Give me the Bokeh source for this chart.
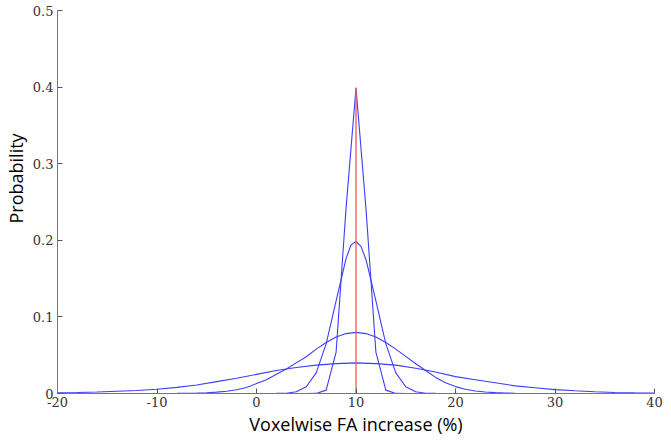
from bokeh.plotting import figure
from bokeh.models import Range1d, FixedTicker, Title
from bokeh.embed import file_html
from bokeh.resources import INLINE

# ---- data ----
x_ticks = [-20, -10, 0, 10, 20, 30, 40]
x_tick_labels = ["-20", "-10", "0", "10", "20", "30", "40"]
y_ticks = [0, 0.1, 0.2, 0.3, 0.4, 0.5]
y_tick_labels = ["0", "0.1", "0.2", "0.3", "0.4", "0.5"]

x_title = "Voxelwise FA increase (%)"
y_title = "Probability"

true_increase = 10
true_peak = 0.399

# narrowest distribution
x_a = [-20, 5, 6, 7, 8, 9, 10, 11, 12, 13, 14, 15, 40]
p_a = [0.0, 0.0, 0.0001, 0.0044, 0.054, 0.242, 0.399, 0.242, 0.054, 0.0044, 0.0001, 0.0, 0.0]

# second distribution
x_b = [-20, 2, 3, 4, 5, 6, 7, 8, 9, 9.5, 10, 10.5, 11, 12, 13, 14, 15, 16, 17, 18, 40]
p_b = [0.0, 0.0001, 0.0004, 0.0022, 0.0088, 0.027, 0.0648, 0.121, 0.176, 0.194, 0.1985,
       0.192, 0.175, 0.121, 0.0648, 0.027, 0.0088, 0.0022, 0.0004, 0.0001, 0.0]

# third distribution
x_c = [-20, -8, -6, -5, -4, -3, -2, -1, 0, 1, 2, 3, 4, 5, 6, 7, 8, 9, 10, 11, 12, 13, 14,
       15, 16, 17, 18, 19, 20, 21, 22, 23, 24, 25, 26, 40]
p_c = [0.0, 0.0002, 0.0006, 0.001, 0.0018, 0.003, 0.0048, 0.0078, 0.013, 0.018, 0.025,
       0.032, 0.040, 0.048, 0.0579, 0.0666, 0.0737, 0.0782, 0.0798, 0.0782, 0.0737, 0.0666,
       0.0579, 0.0484, 0.0388, 0.030, 0.021, 0.014, 0.009, 0.0055, 0.0033, 0.002, 0.0011,
       0.0006, 0.0003, 0.0]

# widest distribution
x_d = [-20, -18, -16, -14, -12, -10, -8, -6, -4, -2, 0, 2, 4, 6, 8, 10, 12, 14, 16, 18,
       20, 22, 24, 26, 28, 30, 32, 34, 36, 38, 40]
p_d = [0.001, 0.0013, 0.002, 0.003, 0.004, 0.0055, 0.008, 0.011, 0.0155, 0.020, 0.025,
       0.030, 0.034, 0.037, 0.039, 0.040, 0.039, 0.037, 0.033, 0.028, 0.022, 0.018, 0.014,
       0.010, 0.0075, 0.005, 0.0035, 0.0022, 0.0014, 0.0008, 0.0005]

curves = [(x_a, p_a), (x_b, p_b), (x_c, p_c), (x_d, p_d)]

# ---- figure ----
p = figure(width=663, height=436, output_backend="svg", toolbar_location=None,
           x_range=Range1d(-20, 40), y_range=Range1d(0, 0.5),
           min_border_left=54, min_border_right=9, min_border_top=10, min_border_bottom=42)
p.outline_line_color = None
p.grid.visible = False
p.background_fill_color = "white"

blue = "#3d3dff"
for xs, ys in curves:
    p.line(xs, ys, line_color=blue, line_width=1.1)

p.line([true_increase, true_increase], [0, true_peak], line_color="#e85f5f",
       line_width=1.6, line_alpha=0.85)

for ax, ticks, labels in ((p.xaxis[0], x_ticks, x_tick_labels), (p.yaxis[0], y_ticks, y_tick_labels)):
    ax.ticker = FixedTicker(ticks=ticks)
    ax.major_label_overrides = {t: l for t, l in zip(ticks, labels)}
    ax.axis_line_color = "#777777"
    ax.major_tick_line_color = "#555555"
    ax.major_tick_in = 5
    ax.major_tick_out = 0
    ax.minor_tick_line_color = None
    ax.major_label_text_font = "DejaVu Serif"
    ax.major_label_text_font_size = "13px"
    ax.major_label_text_color = "#333333"

p.xaxis.major_label_standoff = 3
p.yaxis.major_label_standoff = 4

# axis titles as side-panel titles so they can be placed like in the reference
p.add_layout(Title(text=x_title, align="center", text_font="Open Sans", text_font_size="18px",
                   text_font_style="normal", text_color="#000000", standoff=1), "below")
p.add_layout(Title(text=y_title, align="left", offset=170, text_font="Open Sans",
                   text_font_size="18px", text_font_style="normal", text_color="#000000",
                   standoff=3), "left")

open("out.html", "w").write(file_html(p, INLINE))
